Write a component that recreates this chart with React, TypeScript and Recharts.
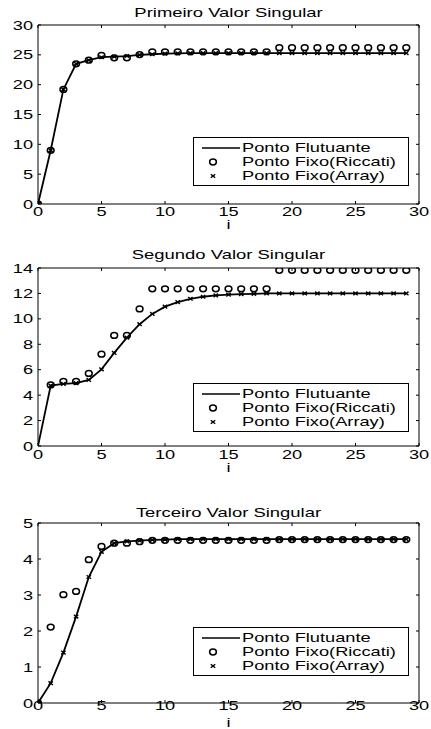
import { ComposedChart, Legend, Line, XAxis, YAxis } from "recharts";

const iteracoes = [
  0, 1, 2, 3, 4, 5, 6, 7, 8, 9, 10, 11, 12, 13, 14, 15, 16, 17, 18, 19, 20,
  21, 22, 23, 24, 25, 26, 27, 28, 29,
];
const xTicks = [0, 5, 10, 15, 20, 25, 30];

// Primeiro valor singular
const primeiroFlutuante = [
  0, 9.0, 19.2, 23.5, 24.1, 24.6, 24.7, 24.8, 25.0, 25.1, 25.2, 25.25, 25.3,
  25.3, 25.3, 25.3, 25.3, 25.3, 25.3, 25.3, 25.3, 25.3, 25.3, 25.3, 25.3, 25.3,
  25.3, 25.3, 25.3, 25.3,
];
const primeiroRiccati = [
  0, 9.0, 19.2, 23.5, 24.1, 24.9, 24.5, 24.5, 25.05, 25.5, 25.5, 25.5, 25.5,
  25.5, 25.5, 25.5, 25.5, 25.5, 25.5, 26.2, 26.2, 26.2, 26.2, 26.2, 26.2, 26.2,
  26.2, 26.2, 26.2, 26.2,
];
const primeiroArray = [
  0, 9.0, 19.2, 23.5, 24.1, 24.6, 24.7, 24.8, 25.0, 25.1, 25.2, 25.25, 25.3,
  25.3, 25.3, 25.3, 25.3, 25.3, 25.3, 25.3, 25.3, 25.3, 25.3, 25.3, 25.3, 25.3,
  25.3, 25.3, 25.3, 25.3,
];
const primeiroYTicks = [0, 5, 10, 15, 20, 25, 30];

// Segundo valor singular
const segundoFlutuante = [
  0, 4.75, 4.88, 4.94, 5.2, 6.03, 7.32, 8.52, 9.58, 10.39, 10.96, 11.32, 11.58,
  11.74, 11.84, 11.9, 11.95, 11.97, 12.0, 12.0, 12.0, 12.0, 12.0, 12.0, 12.0,
  12.0, 12.0, 12.0, 12.0, 12.0,
];
const segundoRiccati = [
  null, 4.8, 5.09, 5.09, 5.71, 7.22, 8.7, 8.7, 10.78, 12.36, 12.36, 12.36,
  12.36, 12.36, 12.36, 12.36, 12.36, 12.36, 12.36, 13.82, 13.82, 13.82, 13.82,
  13.82, 13.82, 13.82, 13.82, 13.82, 13.82, 13.82,
];
const segundoArray = [
  null, 4.75, 4.88, 4.94, 5.2, 6.03, 7.32, 8.52, 9.58, 10.39, 10.96, 11.32,
  11.58, 11.74, 11.84, 11.9, 11.95, 11.97, 12.0, 12.0, 12.0, 12.0, 12.0, 12.0,
  12.0, 12.0, 12.0, 12.0, 12.0, 12.0,
];
const segundoYTicks = [0, 2, 4, 6, 8, 10, 12, 14];

// Terceiro valor singular
const terceiroFlutuante = [
  0, 0.55, 1.4, 2.4, 3.5, 4.2, 4.44, 4.49, 4.51, 4.53, 4.54, 4.55, 4.55, 4.55,
  4.55, 4.55, 4.55, 4.55, 4.55, 4.55, 4.55, 4.55, 4.55, 4.55, 4.55, 4.55, 4.55,
  4.55, 4.55, 4.55,
];
const terceiroRiccati = [
  0, 2.11, 3.01, 3.1, 3.98, 4.35, 4.44, 4.44, 4.48, 4.52, 4.52, 4.52, 4.52,
  4.52, 4.52, 4.52, 4.52, 4.52, 4.52, 4.54, 4.54, 4.54, 4.54, 4.54, 4.54, 4.54,
  4.54, 4.54, 4.54, 4.54,
];
const terceiroArray = [
  0, 0.55, 1.4, 2.4, 3.5, 4.2, 4.44, 4.49, 4.51, 4.53, 4.54, 4.55, 4.55, 4.55,
  4.55, 4.55, 4.55, 4.55, 4.55, 4.55, 4.55, 4.55, 4.55, 4.55, 4.55, 4.55, 4.55,
  4.55, 4.55, 4.55,
];
const terceiroYTicks = [0, 1, 2, 3, 4, 5];

const legendLabels = [
  "Ponto Flutuante",
  "Ponto Fixo(Riccati)",
  "Ponto Fixo(Array)",
];

const FONT = '"Liberation Sans", Arial, Helvetica, sans-serif';
const SX = 1.4; // the figure is stretched sideways

function StretchText({ x, y, anchor = "middle", dy = "0", size = 13, sx = SX, children }: any) {
  return (
    <text
      transform={`translate(${x},${y}) scale(${sx},1)`}
      textAnchor={anchor}
      dy={dy}
      fontSize={size}
      fontFamily={FONT}
      fill="#000"
    >
      {children}
    </text>
  );
}

function Circle(props: any) {
  const { cx, cy, index } = props;
  if (cx == null || cy == null) return <g key={`c${index}`} />;
  return (
    <ellipse key={`c${index}`} cx={cx} cy={cy} rx={3.4} ry={2.9} fill="none" stroke="#000" strokeWidth={1.5} />
  );
}

function Cross(props: any) {
  const { cx, cy, index } = props;
  if (cx == null || cy == null) return <g key={`x${index}`} />;
  return (
    <path
      key={`x${index}`}
      d={`M${cx - 2.2},${cy - 1.8}L${cx + 2.2},${cy + 1.8}M${cx - 2.2},${cy + 1.8}L${cx + 2.2},${cy - 1.8}`}
      stroke="#000"
      strokeWidth={1.4}
    />
  );
}

function LegendBox() {
  const rowY = [10, 24, 38];
  return (
    <div
      style={{
        width: 216,
        height: 49,
        border: "1px solid #000",
        boxSizing: "border-box",
        background: "#fff",
        position: "relative",
      }}
    >
      <svg width={214} height={47} style={{ position: "absolute", left: 0, top: 0 }}>
        <line x1={8} x2={46} y1={rowY[0]} y2={rowY[0]} stroke="#000" strokeWidth={1.6} />
        <Circle cx={19} cy={rowY[1]} index={0} />
        <Cross cx={19} cy={rowY[2]} index={0} />
        {legendLabels.map((t, k) => (
          <StretchText key={t} x={48} y={rowY[k]} anchor="start" dy="0.35em" size={12} sx={1.52}>
            {t}
          </StretchText>
        ))}
      </svg>
    </div>
  );
}

function SingularPlot({
  title,
  flutuante,
  riccati,
  array,
  yTicks,
  height,
  marginTop,
  marginBottom,
  titleGap,
  xTickMargin,
  iOffset,
  legendTop,
}: any) {
  const data = iteracoes.map((i, k) => ({
    i,
    flutuante: flutuante[k],
    riccati: riccati[k],
    array: array[k],
  }));
  const yMax = yTicks[yTicks.length - 1];
  const hidden = () => <g />;
  return (
    <ComposedChart
      width={431}
      height={height}
      data={data}
      margin={{ top: marginTop - 1, right: 11, bottom: marginBottom, left: 8 }}
    >
      <XAxis
        xAxisId="b"
        dataKey="i"
        type="number"
        domain={[0, 30]}
        ticks={xTicks}
        allowDataOverflow
        height={20}
        stroke="#000"
        tickSize={-3}
        tickMargin={xTickMargin}
        tick={(p: any) => (
          <StretchText x={p.x} y={p.y} dy="0.71em">
            {p.payload.value}
          </StretchText>
        )}
        label={{
          value: "i",
          content: (p: any) => (
            <StretchText x={p.viewBox.x + p.viewBox.width / 2} y={p.viewBox.y + iOffset}>
              i
            </StretchText>
          ),
        }}
      />
      <XAxis
        xAxisId="t"
        orientation="top"
        dataKey="i"
        type="number"
        domain={[0, 30]}
        ticks={xTicks}
        allowDataOverflow
        height={1}
        stroke="#000"
        tickSize={-3}
        tick={hidden}
      />
      <YAxis
        yAxisId="l"
        type="number"
        domain={[0, yMax]}
        ticks={yTicks}
        allowDataOverflow
        width={30}
        stroke="#000"
        tickSize={-3}
        tickMargin={8}
        tick={(p: any) => (
          <StretchText x={p.x} y={p.y} anchor="end" dy="0.35em">
            {p.payload.value}
          </StretchText>
        )}
      />
      <YAxis
        yAxisId="r"
        orientation="right"
        type="number"
        domain={[0, yMax]}
        ticks={yTicks}
        allowDataOverflow
        width={1}
        stroke="#000"
        tickSize={-3}
        tick={hidden}
      />
      <Legend
        layout="vertical"
        align="center"
        verticalAlign="middle"
        content={() => <LegendBox />}
        wrapperStyle={{ left: 193, top: legendTop, width: 216, height: 49 }}
      />
      <Line
        xAxisId="t"
        yAxisId="r"
        dataKey="flutuante"
        stroke="none"
        dot={false}
        activeDot={false}
        isAnimationActive={false}
      />
      <Line
        xAxisId="b"
        yAxisId="l"
        dataKey="flutuante"
        type="linear"
        stroke="#000"
        strokeWidth={1.8}
        dot={false}
        activeDot={false}
        isAnimationActive={false}
      />
      <Line
        xAxisId="b"
        yAxisId="l"
        dataKey="array"
        stroke="none"
        dot={Cross}
        activeDot={false}
        isAnimationActive={false}
      />
      <Line
        xAxisId="b"
        yAxisId="l"
        dataKey="riccati"
        stroke="none"
        dot={Circle}
        activeDot={false}
        isAnimationActive={false}
      />
      <text
        transform={`translate(228.5,${marginTop - titleGap}) scale(1.42,1)`}
        textAnchor="middle"
        fontSize={13}
        fontFamily={FONT}
        fill="#000"
      >
        {title}
      </text>
    </ComposedChart>
  );
}

export default function App() {
  return (
    <div
      style={{
        position: "absolute",
        left: 0,
        top: 0,
        width: 431,
        height: 729,
        background: "#fff",
        overflow: "hidden",
      }}
    >
      <div style={{ position: "absolute", left: 0, top: 0 }}>
        <SingularPlot
          title="Primeiro Valor Singular"
          flutuante={primeiroFlutuante}
          riccati={primeiroRiccati}
          array={primeiroArray}
          yTicks={primeiroYTicks}
          height={240}
          marginTop={25}
          marginBottom={16}
          titleGap={8}
          xTickMargin={6}
          iOffset={25}
          legendTop={137}
        />
      </div>
      <div style={{ position: "absolute", left: 0, top: 240 }}>
        <SingularPlot
          title="Segundo Valor Singular"
          flutuante={segundoFlutuante}
          riccati={segundoRiccati}
          array={segundoArray}
          yTicks={segundoYTicks}
          height={240}
          marginTop={28}
          marginBottom={14}
          titleGap={9}
          xTickMargin={7}
          iOffset={26}
          legendTop={143}
        />
      </div>
      <div style={{ position: "absolute", left: 0, top: 480 }}>
        <SingularPlot
          title="Terceiro Valor Singular"
          flutuante={terceiroFlutuante}
          riccati={terceiroRiccati}
          array={terceiroArray}
          yTicks={terceiroYTicks}
          height={249}
          marginTop={43}
          marginBottom={6}
          titleGap={6}
          xTickMargin={1}
          iOffset={24}
          legendTop={147}
        />
      </div>
    </div>
  );
}
